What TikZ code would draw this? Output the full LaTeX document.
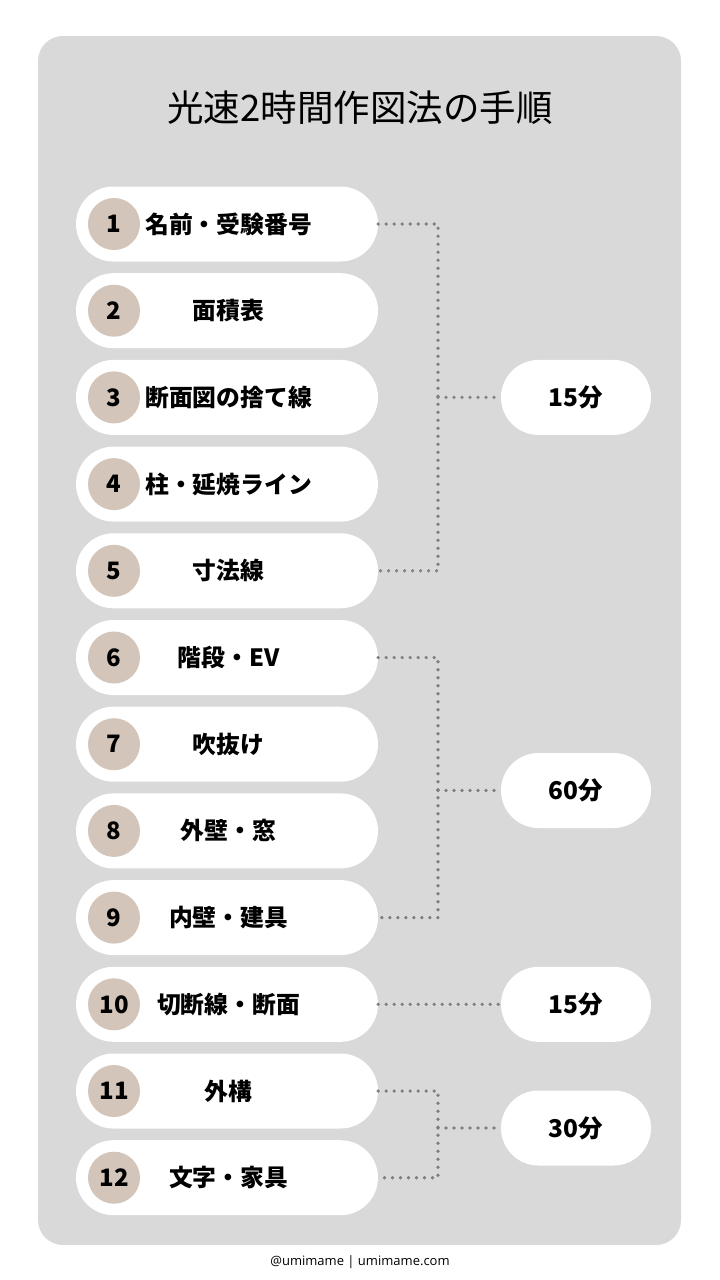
\documentclass[tikz,border=0pt]{standalone}
\usepackage{fontspec}
\setmainfont{Noto Sans CJK JP}
\newfontfamily\footfont{Open Sans}
\begin{document}
\begin{tikzpicture}[x=1pt,y=-1pt,
  panel/.style={fill=panelgray,draw=none,rounded corners=25pt},
  pill/.style={fill=white,draw=none,rounded corners=37.5pt,minimum width=302pt,minimum height=75pt,inner sep=0pt},
  tpill/.style={fill=white,draw=none,rounded corners=37.5pt,minimum width=150pt,minimum height=75pt,inner sep=0pt,font=\fontsize{24.5}{26}\selectfont\bfseries},
  numc/.style={circle,fill=beige,minimum size=52pt,inner sep=0pt,font=\fontsize{24}{26}\selectfont\bfseries},
  lbl/.style={font=\fontsize{23.8}{26}\selectfont\bfseries,inner sep=0pt},
  dots/.style={draw=dotgray,line width=3.6pt,line cap=round,dash pattern=on 0pt off 8pt}
]
\definecolor{panelgray}{HTML}{D9D9D9}
\definecolor{beige}{HTML}{D3C5B9}
\definecolor{dotgray}{HTML}{7F7F7F}
\useasboundingbox (0,0) rectangle (720,1280);
\fill[white] (0,0) rectangle (720,1280);
\path[panel] (38,36) rectangle (681,1245);
\node[font=\fontsize{36.5}{40}\selectfont] (title) at (360,108) {光速2時間作図法の手順};
\foreach \i/\y/\t in {1/224/名前・受験番号,2/310.7/面積表,3/397.4/断面図の捨て線,4/484.1/柱・延焼ライン,5/570.8/寸法線,6/657.5/階段・EV,7/744.2/吹抜け,8/830.9/外壁・窓,9/917.6/内壁・建具,10/1004.3/切断線・断面,11/1091/外構,12/1177.7/文字・家具}{
  \node[pill] (p\i) at (227,\y) {};
  \node[numc] (c\i) at (114,\y) {\i};
  \node[lbl] (l\i) at (228.5,\y) {\t};
}
\node[tpill] (t1) at (576,397.4) {15分};
\node[tpill] (t2) at (576,790.5) {60分};
\node[tpill] (t3) at (576,1004.3) {15分};
\node[tpill] (t4) at (576,1128) {30分};
\coordinate (j1) at (438,397.4);
\coordinate (j2) at (438,790.5);
\coordinate (j4) at (438,1128);
\draw[dots] (p1.east) -| (j1) |- (p5.east);
\draw[dots] (j1) -- (t1.west);
\draw[dots] (p6.east) -| (j2) |- (p9.east);
\draw[dots] (j2) -- (t2.west);
\draw[dots] (p10.east) -- (t3.west);
\draw[dots] (p11.east) -| (j4) |- (p12.east);
\draw[dots] (j4) -- (t4.west);
\node[font=\footfont\fontsize{13}{15}\selectfont] (foot) at (360,1262) {@umimame | umimame.com};
\end{tikzpicture}
\end{document}
